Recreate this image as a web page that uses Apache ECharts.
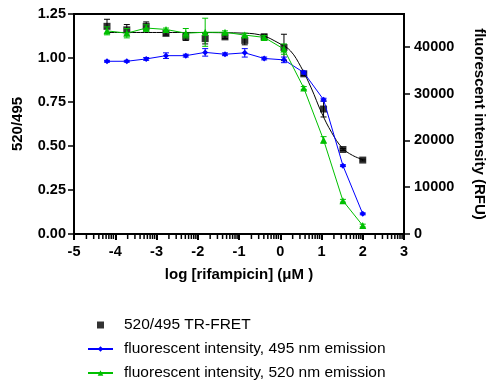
<!DOCTYPE html>
<html>
<head>
<meta charset="utf-8">
<script src="https://cdn.jsdelivr.net/npm/echarts@6/dist/echarts.min.js"></script>
<style>
  html, body { margin: 0; padding: 0; background: #fff; }
  #chart { width: 487px; height: 381px; }
</style>
</head>
<body>
<div id="chart"></div>
<script>
// 浓度（log μM），3 倍稀释
const logConc = [-4.20, -3.72, -3.25, -2.77, -2.29, -1.82, -1.34, -0.86, -0.39, 0.09, 0.57, 1.05, 1.52, 2.00];

// 520/495 TR-FRET 比值（左轴）
const ratio = [1.18, 1.16, 1.18, 1.14, 1.12, 1.11, 1.12, 1.10, 1.12, 1.06, 0.91, 0.71, 0.48, 0.42];
const ratioErr = [0.04, 0.03, 0.025, 0.01, 0.02, 0.03, 0.01, 0.025, 0.015, 0.075, 0.01, 0.045, 0.005, 0.005];

// 拟合曲线（读图取点）
const fitX = [-4.20, -3.00, -2.00, -1.50, -1.00, -0.50, 0.00, 0.25, 0.50, 0.75, 1.00, 1.25, 1.50, 1.75, 2.00];
const fitY = [1.145, 1.145, 1.145, 1.144, 1.142, 1.132, 1.08, 1.04, 0.95, 0.83, 0.69, 0.575, 0.49, 0.447, 0.423];

// 荧光强度 RFU（右轴）
const em495 = [36900, 36900, 37400, 38100, 38100, 38800, 38400, 38700, 37500, 37200, 34500, 28700, 14600, 4300];
const em495Err = [200, 200, 300, 600, 300, 800, 300, 900, 300, 600, 300, 300, 200, 200];
const em520 = [43400, 42900, 44000, 43700, 42900, 43100, 43100, 42500, 42000, 39500, 31200, 20100, 7100, 1800];
const em520Err = [850, 1000, 700, 300, 1000, 3000, 300, 400, 400, 1100, 300, 700, 300, 300];

// 坐标轴刻度
const xTicks = [-5, -4, -3, -2, -1, 0, 1, 2, 3];
const rightTicks = [0, 10000, 20000, 30000, 40000];
const minorSteps = [2, 3, 4, 5, 6, 7, 8, 9];

const names = ['520/495 TR-FRET', 'fluorescent intensity, 495 nm emission', 'fluorescent intensity, 520 nm emission'];

// 对数次刻度位置
const minorTicks = [];
xTicks.slice(0, -1).forEach((d) => minorSteps.forEach((k) => minorTicks.push(d + Math.log10(k))));

const font = 'Liberation Sans, Arial, Helvetica, sans-serif';
const tickLabel = { color: '#000', fontFamily: font, fontWeight: 'bold', fontSize: 14.5 };
const nameStyle = { color: '#000', fontFamily: font, fontWeight: 'bold', fontSize: 15 };

function errData(ys, errs) {
  return logConc.map((x, i) => [x, ys[i] - errs[i], ys[i] + errs[i]]);
}

function errorBar(color) {
  return function (params, api) {
    const lo = api.coord([api.value(0), api.value(1)]);
    const hi = api.coord([api.value(0), api.value(2)]);
    const w = 3;
    const style = { stroke: color, lineWidth: 1 };
    return {
      type: 'group',
      children: [
        { type: 'line', shape: { x1: lo[0], y1: lo[1], x2: hi[0], y2: hi[1] }, style },
        { type: 'line', shape: { x1: lo[0] - w, y1: lo[1], x2: lo[0] + w, y2: lo[1] }, style },
        { type: 'line', shape: { x1: hi[0] - w, y1: hi[1], x2: hi[0] + w, y2: hi[1] }, style },
      ],
    };
  };
}

const blue = '#0000ff';
const green = '#00c000';

const chart = echarts.init(document.getElementById('chart'), null, { renderer: 'canvas' });

chart.setOption({
  animation: false,
  backgroundColor: '#fff',
  grid: {
    left: 74, right: 83, top: 14, bottom: 147,
    outerBoundsMode: 'none',
    containLabel: false,
    show: true, borderColor: '#000', borderWidth: 2,
  },
  legend: {
    orient: 'vertical',
    left: 87,
    top: 317,
    padding: 0,
    itemWidth: 25,
    itemHeight: 7,
    itemGap: 8,
    data: [
      { name: names[0], icon: 'path://M0,0H1V1H0Z' },
      { name: names[1] },
      { name: names[2] },
    ],
    textStyle: { color: '#000', fontFamily: font, fontSize: 15.5, lineHeight: 16, padding: [0, 0, 0, 6] },
  },
  xAxis: {
    type: 'value',
    zlevel: 1,
    min: -5, max: 3, interval: 1,
    name: 'log [rifampicin] (μM )',
    nameLocation: 'middle',
    nameGap: 33,
    nameTextStyle: nameStyle,
    axisLine: { onZero: false, lineStyle: { color: '#000', width: 2 } },
    axisTick: { show: true, inside: false, length: 6, lineStyle: { color: '#000', width: 2 } },
    axisLabel: { ...tickLabel, margin: 10 },
    splitLine: { show: false },
  },
  yAxis: [
    {
      type: 'value',
      min: 0, max: 1.25, interval: 0.25,
      name: '520/495',
      nameLocation: 'middle',
      nameGap: 49,
      nameTextStyle: nameStyle,
      axisLine: { show: true, onZero: false, lineStyle: { color: '#000', width: 2 } },
      axisTick: { show: true, length: 6, lineStyle: { color: '#000', width: 1.5 } },
      axisLabel: { ...tickLabel, margin: 8, formatter: (v) => v.toFixed(2) },
      splitLine: { show: false },
    },
    {
      type: 'value',
      position: 'right',
      min: 0, max: 47000,
      name: 'fluorescent intensity (RFU)',
      nameLocation: 'middle',
      nameRotate: -90,
      nameGap: 68,
      nameTextStyle: nameStyle,
      axisLine: { show: true, onZero: false, lineStyle: { color: '#000', width: 2 } },
      axisTick: { show: true, length: 6, customValues: rightTicks, lineStyle: { color: '#000', width: 1.5 } },
      axisLabel: { ...tickLabel, margin: 10, customValues: rightTicks, formatter: (v) => String(v) },
      splitLine: { show: false },
    },
  ],
  series: [
    {
      name: 'fit',
      type: 'line',
      data: fitX.map((x, i) => [x, fitY[i]]),
      smooth: 0.4,
      showSymbol: false,
      lineStyle: { color: '#000', width: 1 },
      z: 2,
    },
    {
      type: 'custom',
      renderItem: errorBar('#000'),
      data: errData(ratio, ratioErr),
      encode: { x: 0, y: [1, 2] },
      z: 3,
    },
    {
      name: names[0],
      type: 'scatter',
      data: logConc.map((x, i) => [x, ratio[i]]),
      symbol: 'rect',
      symbolSize: 7,
      itemStyle: { color: '#000' },
      z: 4,
    },
    {
      type: 'custom',
      yAxisIndex: 1,
      renderItem: errorBar(blue),
      data: errData(em495, em495Err),
      encode: { x: 0, y: [1, 2] },
      z: 5,
    },
    {
      name: names[1],
      type: 'line',
      yAxisIndex: 1,
      data: logConc.map((x, i) => [x, em495[i]]),
      symbol: 'diamond',
      symbolSize: 6,
      showAllSymbol: true,
      itemStyle: { color: blue },
      lineStyle: { color: blue, width: 1 },
      z: 6,
    },
    {
      type: 'custom',
      yAxisIndex: 1,
      renderItem: errorBar(green),
      data: errData(em520, em520Err),
      encode: { x: 0, y: [1, 2] },
      z: 7,
    },
    {
      name: names[2],
      type: 'line',
      yAxisIndex: 1,
      data: logConc.map((x, i) => [x, em520[i]]),
      symbol: 'triangle',
      symbolSize: 7,
      showAllSymbol: true,
      itemStyle: { color: green },
      lineStyle: { color: green, width: 1 },
      z: 8,
    },
  ],
});

// x 轴对数次刻度：用坐标轴换算位置后画短线
chart.setOption({
  graphic: minorTicks.map((v) => {
    const p = chart.convertToPixel({ xAxisIndex: 0, yAxisIndex: 0 }, [v, 0]);
    return {
      type: 'line',
      silent: true,
      zlevel: 1,
      z: 100,
      shape: { x1: p[0], y1: p[1], x2: p[0], y2: p[1] + 5 },
      style: { stroke: '#000', lineWidth: 1.5 },
    };
  }),
});

window.addEventListener('resize', () => chart.resize());
</script>
</body>
</html>
